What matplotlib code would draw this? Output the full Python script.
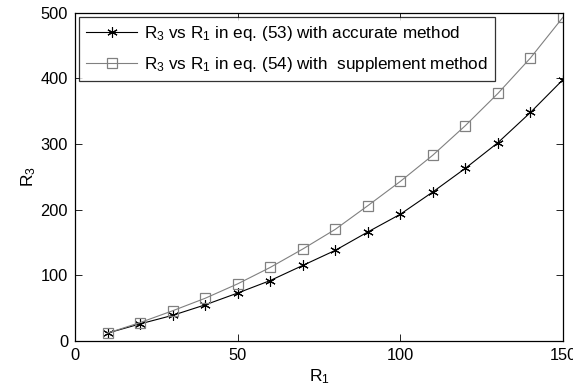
import matplotlib
matplotlib.use("Agg")
import matplotlib.pyplot as plt

r1 = [10, 20, 30, 40, 50, 60, 70, 80, 90, 100, 110, 120, 130, 140, 150]
r3_accurate = [12, 26, 39, 55, 73, 92, 115, 138, 166, 193, 227, 263, 302, 348, 398]
r3_supplement = [12, 28, 46, 65, 87, 112, 140, 170, 206, 243, 283, 328, 377, 431, 493]
xticks = [0, 50, 100, 150]
yticks = [0, 100, 200, 300, 400, 500]

plt.rcParams['font.family'] = ['Liberation Sans', 'DejaVu Sans']
plt.rcParams['mathtext.fontset'] = 'custom'
plt.rcParams['mathtext.rm'] = 'Liberation Sans'
plt.rcParams['mathtext.it'] = 'Liberation Sans'

fig = plt.figure(figsize=(5.73, 3.91), dpi=100)
ax = fig.add_axes([0.131, 0.128, 0.8515, 0.8396])

ax.plot(r1, r3_accurate, color='black', lw=0.8, marker=(6, 2, 0), ms=7.5, mew=0.8,
        label=r'R$_\mathregular{3}$ vs R$_\mathregular{1}$ in eq. (53) with accurate method')
ax.plot(r1, r3_supplement, color='#808080', lw=0.8, marker='s', ms=6.5, mfc='none', mew=0.9,
        label=r'R$_\mathregular{3}$ vs R$_\mathregular{1}$ in eq. (54) with  supplement method')

ax.set_xlim(0, 150)
ax.set_ylim(0, 500)
ax.set_xticks(xticks)
ax.set_yticks(yticks)
ax.tick_params(direction='in', top=True, right=True, labelsize=11.8, length=5, width=0.6, pad=5)
for s in ax.spines.values():
    s.set_linewidth(0.9)
ax.set_xlabel(r'R$_\mathregular{1}$', fontsize=12.5, labelpad=3)
ax.set_ylabel(r'R$_\mathregular{3}$', fontsize=12.5, labelpad=2)

leg = ax.legend(loc='upper left', fontsize=12.3, handlelength=3.0, frameon=True, fancybox=False,
                edgecolor='black', borderaxespad=0.25, borderpad=0.4, labelspacing=0.7,
                handletextpad=0.4)
leg.get_frame().set_linewidth(0.9)

fig.savefig('out.png', dpi=100)
